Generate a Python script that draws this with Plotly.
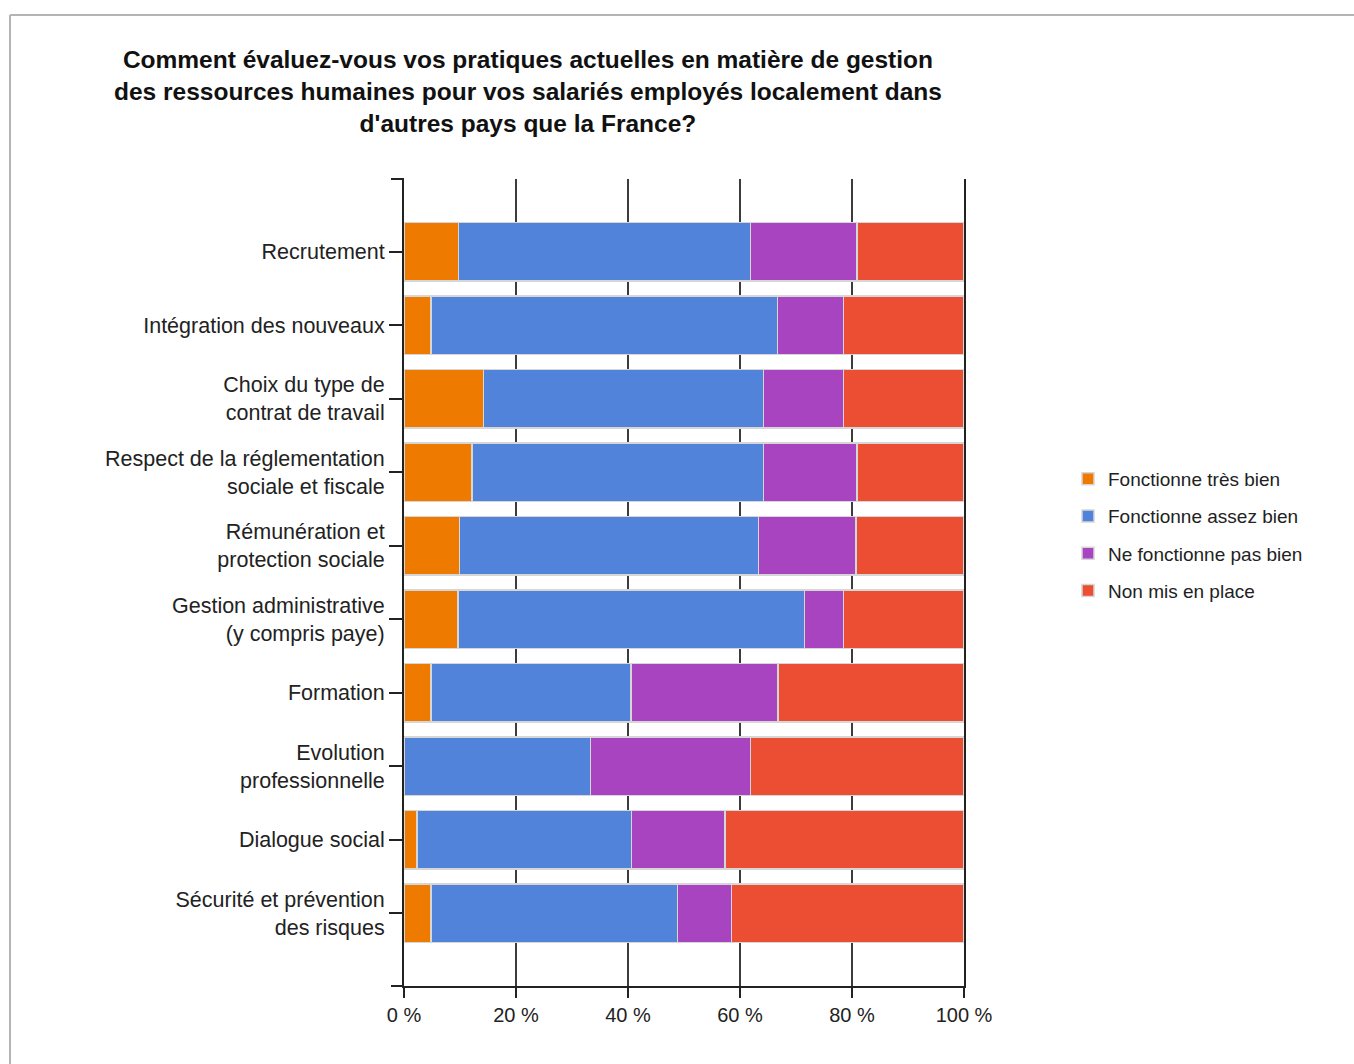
import plotly.graph_objects as go

categories = [
    "Recrutement",
    "Intégration des nouveaux",
    "Choix du type de<br>contrat de travail",
    "Respect de la réglementation<br>sociale et fiscale",
    "Rémunération et<br>protection sociale",
    "Gestion administrative<br>(y compris paye)",
    "Formation",
    "Evolution<br>professionnelle",
    "Dialogue social",
    "Sécurité et prévention<br>des risques",
]

tres_bien = [9.7, 4.8, 14.2, 12.1, 9.9, 9.6, 4.8, 0.0, 2.3, 4.8]
assez_bien = [52.2, 61.9, 50.0, 52.1, 53.4, 61.9, 35.7, 33.3, 38.3, 44.0]
pas_bien = [19.0, 11.8, 14.3, 16.7, 17.4, 7.0, 26.3, 28.6, 16.7, 9.7]
non_mis = [19.1, 21.5, 21.5, 19.1, 19.3, 21.5, 33.2, 38.1, 42.7, 41.5]

series_names = ["Fonctionne très bien", "Fonctionne assez bien",
                "Ne fonctionne pas bien", "Non mis en place"]
series_values = [tres_bien, assez_bien, pas_bien, non_mis]
series_colors = ["#EE7A00", "#5283DA", "#A944C1", "#EB4E33"]

x_tickvals = [0, 20, 40, 60, 80, 100]

title_text = ("Comment évaluez-vous vos pratiques actuelles en matière de gestion<br>"
              "des ressources humaines pour vos salariés employés localement dans<br>"
              "d'autres pays que la France?")

W, H = 1354, 1064
ML, MR, MT, MB = 404, 390, 179, 78
PW = W - ML - MR
PH = H - MT - MB

def px_x(px):
    return (px - ML) / PW

def px_y(py):
    return (H - MB - py) / PH

fig = go.Figure()
for i, (name, vals, col) in enumerate(zip(series_names, series_values, series_colors)):
    fig.add_trace(go.Bar(
        y=categories, x=vals, name=name, orientation="h",
        marker=dict(color=col, line=dict(color="#d6d6d6", width=1.5)),
        legendgroup=f"g{i}",
        hoverinfo="x+y+name",
    ))

font_family = "Liberation Sans, Arial, sans-serif"

fig.update_layout(
    width=W, height=H,
    margin=dict(l=ML, r=MR, t=MT, b=MB, autoexpand=False),
    barmode="stack",
    bargap=0.2,
    plot_bgcolor="white",
    paper_bgcolor="white",
    font=dict(family=font_family, color="#222222"),
    showlegend=True,
    legend=dict(
        x=px_x(1068), xanchor="left",
        y=px_y(535), yanchor="middle",
        traceorder="grouped",
        font=dict(size=19, color="#222222"),
        tracegroupgap=9.5,
        bgcolor="rgba(0,0,0,0)",
    ),
    xaxis=dict(
        range=[0, 100],
        tickvals=x_tickvals,
        ticktext=[f"{v} %" for v in x_tickvals],
        showgrid=True, gridcolor="#3c3c3c", gridwidth=2,
        showline=True, linecolor="#222222", linewidth=2,
        ticks="outside", ticklen=10, tickwidth=2, tickcolor="#222222",
        tickfont=dict(size=20, color="#222222"),
        zeroline=False, fixedrange=True,
    ),
    yaxis=dict(
        type="category",
        range=[9.99, -0.99],
        showline=True, linecolor="#222222", linewidth=2, mirror=True,
        ticks="outside", ticklen=13, tickwidth=2, tickcolor="#222222",
        tickfont=dict(size=21.5, color="#222222"),
        showgrid=False, zeroline=False, fixedrange=True,
    ),
    annotations=[dict(
        text="<b>" + title_text + "</b>",
        x=px_x(528), y=px_y(92), xref="paper", yref="paper",
        xanchor="center", yanchor="middle", showarrow=False,
        font=dict(size=24.5, color="#111111", family=font_family),
        align="center",
    )],
    shapes=[
        # frame
        dict(type="line", xref="paper", yref="paper",
             x0=px_x(10), x1=px_x(1354), y0=px_y(15), y1=px_y(15),
             line=dict(color="#b4b4b4", width=2)),
        dict(type="line", xref="paper", yref="paper",
             x0=px_x(10), x1=px_x(10), y0=px_y(15), y1=px_y(1064),
             line=dict(color="#b4b4b4", width=2)),
        # y-axis end ticks
        dict(type="line", xref="paper", yref="paper",
             x0=px_x(391), x1=0, y0=1, y1=1,
             line=dict(color="#222222", width=2)),
        dict(type="line", xref="paper", yref="paper",
             x0=px_x(391), x1=0, y0=0, y1=0,
             line=dict(color="#222222", width=2)),
    ],
)

fig.write_html("out.html")
